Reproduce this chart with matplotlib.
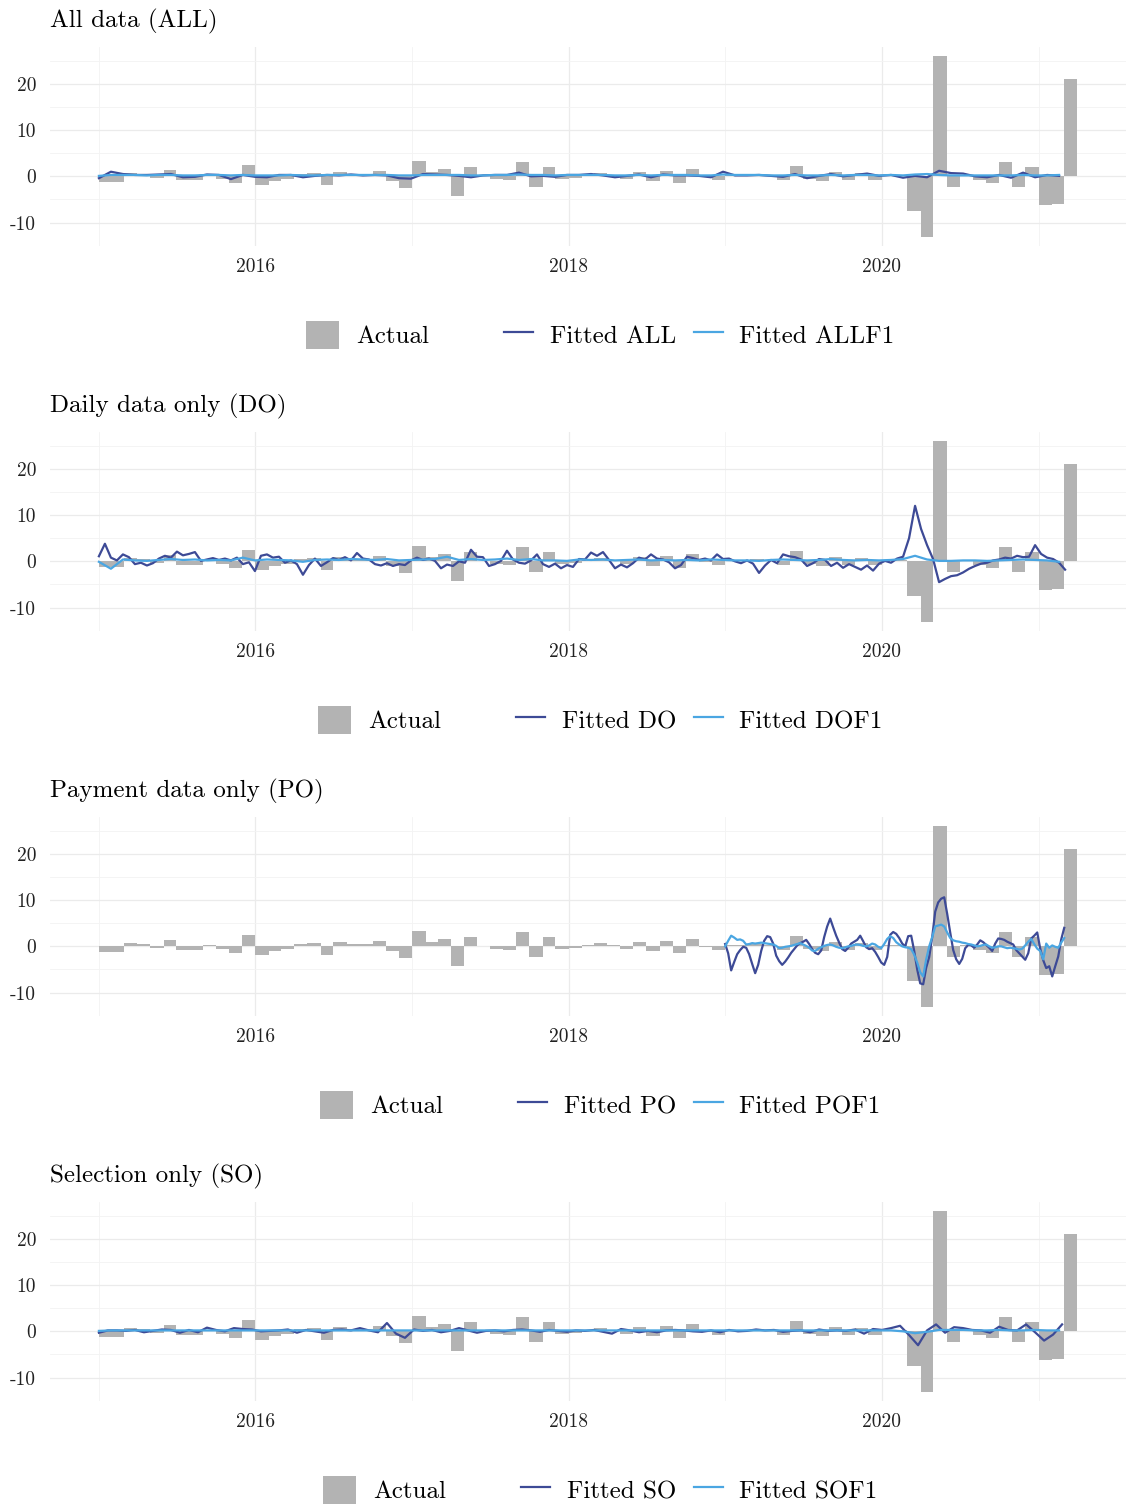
import matplotlib
matplotlib.use("Agg")
import matplotlib.pyplot as plt
import matplotlib.dates as mdates
from matplotlib.patches import Patch
from matplotlib.lines import Line2D
import numpy as np
import pandas as pd

plt.rcParams['font.family'] = ['cmr10', 'DejaVu Serif']
plt.rcParams['axes.formatter.use_mathtext'] = True

# monthly actual values, Jan 2015 - Mar 2021
actual = [
    -1.2, -1.2, 0.8, 0.4, -0.4, 1.3, -0.8, -0.8, 0.3, -0.6, -1.5, 2.5,
    -1.9, -0.9, -0.6, 0.4, 0.7, -1.9, 1.0, 0.6, 0.4, 1.1, -1.1, -2.5,
    3.4, 0.9, 1.5, -4.2, 2.0, 0.1, -0.5, -0.7, 3.1, -2.4, 2.0, -0.6,
    -0.3, 0.3, 0.8, 0.2, -0.6, 0.9, -0.9, 1.1, -1.4, 1.6, -0.2, -0.8,
    0.3, 0.2, 0.5, 0.3, -0.8, 2.2, -0.6, -1.0, 1.0, -0.8, 0.8, -0.8,
    0.2, 0.3, -7.4, -13.1, 26.0, -2.4, 0.3, -0.8, -1.4, 3.0, -2.4, 2.0,
    -6.3, -5.9, 21.0,
]

# fitted series (ALL / SO every 28 / 21 days, DO every 14 days, PO weekly from 2019)
fitted_all = [
    -0.4, 1.0, 0.5, 0.3, 0.3, 0.4, 0.5, -0.2, -0.1, 0.4,
    0.3, -0.6, 0.3, -0.1, -0.2, 0.3, 0.3, -0.2, 0.1, 0.3,
    0.2, 0.4, 0.2, 0.3, 0.2, -0.4, -0.5, 0.5, 0.4, 0.3,
    0.1, -0.2, 0.2, 0.3, 0.3, 0.8, 0.0, 0.1, -0.1, 0.3,
    0.3, 0.5, 0.2, -0.2, 0.1, 0.4, -0.2, 0.4, 0.2, 0.2,
    0.1, -0.2, 1.0, 0.2, 0.2, 0.3, 0.1, -0.1, 0.5, -0.4,
    0.1, 0.5, 0.0, 0.3, 0.6, 0.1, 0.3, -0.3, 0.1, -0.2,
    1.2, 0.7, 0.6, 0.0, -0.2, 0.3, -0.3, 0.8, -0.2, 0.3,
    0.1,
]
fitted_allf1 = [
    0.1, 0.3, 0.3, 0.3, 0.2, 0.3, 0.3, 0.2, 0.2, 0.3,
    0.3, 0.2, 0.3, 0.2, 0.2, 0.2, 0.3, 0.2, 0.2, 0.3,
    0.3, 0.3, 0.3, 0.3, 0.3, 0.2, 0.2, 0.3, 0.3, 0.3,
    0.3, 0.2, 0.2, 0.3, 0.3, 0.4, 0.3, 0.3, 0.2, 0.3,
    0.3, 0.3, 0.3, 0.2, 0.2, 0.3, 0.2, 0.3, 0.3, 0.3,
    0.2, 0.2, 0.4, 0.3, 0.3, 0.3, 0.2, 0.2, 0.3, 0.2,
    0.2, 0.3, 0.2, 0.3, 0.3, 0.2, 0.3, 0.2, 0.4, 0.5,
    0.3, 0.2, 0.2, 0.2, 0.2, 0.2, 0.2, 0.3, 0.2, 0.2,
    0.3,
]
fitted_do = [
    1.1, 3.8, 0.8, 0.2, 1.5, 0.9, -0.6, -0.3, -0.9, -0.4,
    0.6, 1.2, 0.8, 2.1, 1.3, 1.6, 2.0, 0.1, 0.4, 0.7,
    0.3, 0.6, 0.2, 0.8, -0.6, -0.2, -2.1, 1.2, 1.5, 0.8,
    1.0, -0.3, 0.2, -0.6, -2.9, -0.8, 0.6, -1.0, -0.2, 0.7,
    0.3, 0.9, 0.2, 1.8, 0.6, 0.4, -0.6, -0.9, -0.4, -1.0,
    -0.6, -0.8, 0.2, 0.8, 0.3, 0.6, 0.1, -1.5, -0.7, -1.0,
    0.0, -0.3, 2.5, 1.0, 0.9, -1.0, -0.6, 0.1, 2.3, 0.4,
    -0.3, -0.5, 0.2, 1.5, -0.6, -1.2, -0.5, -1.5, -0.8, -1.2,
    0.5, 0.4, 1.9, 1.2, 2.0, 0.3, -1.5, -0.7, -1.3, -0.4,
    0.8, 0.4, 1.5, 0.6, 0.4, -0.2, -1.5, -0.8, 1.0, 0.7,
    0.3, 0.6, 0.2, 1.5, 0.5, 0.6, 0.0, -0.4, 0.2, -0.5,
    -2.5, -0.9, 0.3, -0.4, 1.5, 1.1, 0.9, 0.4, -1.0, -0.4,
    0.5, 0.3, -1.0, -0.3, -1.4, -0.6, -1.2, -1.8, -0.9, -2.0,
    -0.5, 0.1, -0.3, 0.6, 1.0, 5.0, 12.0, 7.0, 3.5, 0.5,
    -4.5, -3.8, -3.2, -3.0, -2.4, -1.6, -1.0, -0.5, -0.3, 0.2,
    0.4, 0.8, 0.6, 1.2, 0.9, 1.0, 3.5, 1.6, 0.8, 0.5,
    -0.3, -1.8,
]
fitted_dof1 = [
    -0.1, -1.6, 0.4, 0.2, 0.1, 0.3, 0.5, 0.3, 0.4, 0.2,
    0.3, 0.2, 0.8, 0.2, 0.4, 0.3, 0.2, -0.1, 0.3, 0.4,
    0.3, 0.5, 0.4, 0.3, 0.5, 0.2, 0.3, 0.4, 0.5, 1.0,
    0.3, 0.5, 0.3, 0.4, 0.6, 0.3, 0.5, 0.2, 0.2, 0.1,
    0.4, 0.3, 0.4, 0.2, 0.3, 0.4, 0.2, 0.3, 0.2, 0.3,
    0.2, 0.4, 0.3, 0.2, 0.2, 0.1, 0.3, 0.4, 0.3, 0.2,
    0.3, 0.5, 0.3, 0.2, 0.3, 0.2, 0.3, 0.5, 1.2, 0.4,
    0.1, 0.1, 0.2, 0.2, 0.1, 0.2, 0.3, 0.4, 0.3, 0.2,
    -0.1,
]
fitted_po = [
    0.5, -1.5, -5.2, -3.4, -1.7, -0.8, -0.1, -0.3, -1.7, -3.8,
    -5.8, -4.0, -1.0, 1.2, 2.2, 2.0, 0.6, -2.0, -3.2, -4.0,
    -3.3, -2.4, -1.4, -0.6, 0.2, 0.7, 1.0, 1.4, 0.5, -0.6,
    -1.4, -1.7, -0.9, 2.0, 4.3, 6.0, 4.1, 2.3, 0.8, -0.6,
    -1.0, -0.3, 0.6, 1.0, 1.4, 2.3, 1.1, -0.2, -0.6, -0.4,
    -1.2, -2.3, -3.5, -4.0, -2.3, 2.5, 3.1, 2.7, 1.8, 0.6,
    0.0, 2.2, 2.3, -1.0, -5.0, -8.0, -8.2, -4.6, -2.3, 2.0,
    7.5, 9.5, 10.3, 10.6, 7.0, 3.0, -0.8, -2.8, -3.8, -2.7,
    -0.4, 0.3, 0.2, -0.3, 0.4, 1.3, 0.9, 0.3, -0.3, -1.0,
    0.6, 1.7, 1.6, 1.4, 1.0, 0.7, 0.4, -0.8, -1.5, -2.2,
    -2.9, -1.5, 1.7, 2.3, 3.0, -0.5, -3.0, -4.7, -4.3, -6.5,
    -4.3, -2.2, 1.5, 4.0,
]
fitted_pof1 = [
    0.0, 1.2, 2.3, 1.9, 1.4, 1.5, 1.2, 0.4, 0.5, 0.7,
    0.6, 0.7, 0.8, 0.7, 0.6, 0.5, 0.4, 0.1, -0.4, -0.3,
    -0.1, 0.0, 0.1, 0.3, 0.5, 0.7, 0.4, 0.1, -0.3, -0.9,
    -1.0, -0.5, -0.2, 0.1, 0.3, 0.4, 0.2, -0.1, -0.3, -0.4,
    -0.2, 0.0, 0.1, 0.3, 0.4, 0.3, 0.1, 0.0, 0.2, 0.6,
    0.4, -0.1, -0.4, 0.5, 1.6, 2.2, 1.8, 0.9, 0.4, 0.0,
    -0.2, -0.3, -0.6, -1.8, -3.5, -5.6, -6.5, -2.8, 0.0, 2.0,
    4.3, 4.5, 4.7, 4.3, 3.0, 1.8, 1.3, 1.1, 1.0, 0.8,
    0.7, 0.5, 0.4, 0.2, 0.0, 0.1, 0.3, 0.4, 0.0, -0.3,
    -0.2, 0.0, 0.0, -0.2, -0.4, -0.3, -0.4, -0.5, -0.7, -0.5,
    0.2, 1.0, 1.6, 0.5, -0.5, -1.0, -2.8, 0.6, -0.3, 0.2,
    -0.1, -0.3, 0.8, 1.8,
]
fitted_so = [
    -0.3, 0.2, 0.2, 0.1, 0.3, -0.2, 0.1, 0.4, 0.3, -0.3,
    0.3, -0.2, 0.8, 0.3, 0.0, 0.7, 0.5, 0.4, 0.0, 0.1,
    0.2, 0.4, -0.3, 0.3, 0.0, -0.3, 0.3, 0.4, 0.2, 0.7,
    0.2, -0.2, 1.8, -0.5, -1.4, 0.4, 0.1, 0.3, -0.2, 0.1,
    0.7, 0.2, -0.3, 0.1, 0.2, 0.0, 0.3, 0.4, 0.2, -0.1,
    0.3, 0.1, -0.1, 0.2, 0.1, 0.3, -0.1, -0.5, 0.5, 0.2,
    -0.2, 0.1, -0.2, 0.2, 0.3, 0.2, 0.0, -0.1, 0.2, -0.2,
    0.3, 0.0, 0.1, 0.4, 0.2, 0.3, -0.1, 0.1, 0.2, -0.2,
    0.4, 0.1, 0.2, 0.1, 0.4, -0.5, 0.5, 0.3, 0.7, 1.2,
    -0.8, -3.0, 0.2, 1.5, -0.3, 0.9, 0.7, 0.3, 0.2, -0.3,
    1.0, 0.3, 0.2, 1.5, -0.2, -2.0, -0.7, 1.5,
]
fitted_sof1 = [
    0.1, 0.2, 0.2, 0.2, 0.2, 0.2, 0.2, 0.2, 0.2, 0.2,
    0.2, 0.2, 0.2, 0.2, 0.2, 0.2, 0.2, 0.2, 0.2, 0.2,
    0.2, 0.2, 0.2, 0.2, 0.2, 0.2, 0.2, 0.2, 0.2, 0.2,
    0.2, 0.2, 0.2, 0.2, 0.2, 0.2, 0.2, 0.2, 0.2, 0.2,
    0.2, 0.2, 0.2, 0.2, 0.2, 0.2, 0.2, 0.2, 0.2, 0.2,
    0.2, 0.2, 0.2, 0.2, 0.2, 0.2, 0.2, 0.2, 0.2, 0.2,
    0.2, 0.2, 0.2, 0.2, 0.2, 0.2, 0.2, 0.0, -0.4, -0.1,
    0.3, 0.3, 0.3, 0.2, 0.2, 0.3, 0.2, 0.2, 0.3, 0.2,
    0.2,
]

titles = ['All data (ALL)', 'Daily data only (DO)', 'Payment data only (PO)', 'Selection only (SO)']
codes = ['ALL', 'DO', 'PO', 'SO']
y_ticks = [-10, 0, 10, 20]
y_tick_labels = ['-10', '0', '10', '20']
major_years = [2016, 2018, 2020]
minor_years = [2015, 2017, 2019, 2021]

BAR_COLOR = '#b3b3b3'
DARK = '#3d4a96'
LIGHT = '#4aa6e2'
LW = 1.6


def series(start, freq, vals):
    return pd.date_range(start, periods=len(vals), freq=freq).to_pydatetime(), vals


panels = [
    (series('2015-01-01', '28D', fitted_all), series('2015-01-01', '28D', fitted_allf1)),
    (series('2015-01-01', '14D', fitted_do), series('2015-01-01', '28D', fitted_dof1)),
    (series('2019-01-01', '7D', fitted_po), series('2019-01-01', '7D', fitted_pof1)),
    (series('2015-01-01', '21D', fitted_so), series('2015-01-01', '28D', fitted_sof1)),
]

months = pd.date_range('2015-01-01', periods=len(actual) + 1, freq='MS').to_pydatetime()
month_num = mdates.date2num(months)
bar_x = month_num[:-1]
bar_w = np.diff(month_num)

x_lo, x_hi = month_num[0], month_num[-1]
x_pad = 0.05 * (x_hi - x_lo)
y_lo, y_hi = min(actual), max(actual)
y_pad = 0.05 * (y_hi - y_lo)

W, H = 1130, 1505
fig = plt.figure(figsize=(W / 100, H / 100), dpi=100)
step = 385
legends = []

for i, (title, code, (fit, fit1)) in enumerate(zip(titles, codes, panels)):
    ax = fig.add_axes([50 / W, 1 - (246 + step * i) / H, 1076 / W, 199 / H])
    ax.bar(bar_x, actual, width=bar_w, align='edge', color=BAR_COLOR, zorder=2)
    ax.plot(mdates.date2num(fit[0]), fit[1], color=DARK, lw=LW, zorder=3)
    ax.plot(mdates.date2num(fit1[0]), fit1[1], color=LIGHT, lw=LW, zorder=4)

    ax.set_xlim(x_lo - x_pad, x_hi + x_pad)
    ax.set_ylim(y_lo - y_pad, y_hi + y_pad)

    ax.set_xticks(mdates.date2num([pd.Timestamp(f'{y}-01-01') for y in major_years]))
    ax.set_xticklabels([str(y) for y in major_years])
    ax.set_xticks(mdates.date2num([pd.Timestamp(f'{y}-01-01') for y in minor_years]), minor=True)
    ax.set_yticks(y_ticks)
    ax.set_yticklabels(y_tick_labels)
    ax.set_yticks([-5, 5, 15, 25], minor=True)

    ax.grid(True, which='major', color='#ebebeb', lw=0.9, zorder=0)
    ax.grid(True, which='minor', color='#f3f3f3', lw=0.6, zorder=0)
    ax.set_axisbelow(True)
    for s in ax.spines.values():
        s.set_visible(False)
    ax.tick_params(which='both', length=0)
    ax.tick_params(axis='x', labelsize=14, pad=9, colors='#222222')
    ax.tick_params(axis='y', labelsize=14, pad=10, colors='#222222')

    ax.set_title(title, loc='left', fontsize=18, pad=14, x=0)

    y_leg = 1 - (335 + step * i) / H
    common = dict(loc='center left', bbox_to_anchor=(0, y_leg), bbox_transform=fig.transFigure,
                  frameon=False, fontsize=18, borderpad=0, borderaxespad=0, handleheight=1.4)
    leg1 = ax.legend([Patch(facecolor=BAR_COLOR, edgecolor='none')], ['Actual'],
                     handlelength=1.35, handletextpad=0.68, **common)
    ax.add_artist(leg1)
    leg2 = ax.legend([Line2D([], [], color=DARK, lw=LW), Line2D([], [], color=LIGHT, lw=LW)],
                     [f'Fitted {code}', f'Fitted {code}F1'], ncol=2,
                     handlelength=1.15, handletextpad=0.66, columnspacing=0.72, **common)
    legends.append((leg1, leg2, y_leg))

# centre each legend pair at x = 600 px with a 75 px gap between the groups
renderer = fig.canvas.get_renderer()
gap = 75
for leg1, leg2, y_leg in legends:
    w1 = leg1.get_window_extent(renderer).width
    w2 = leg2.get_window_extent(renderer).width
    left = 600 - (w1 + gap + w2) / 2
    leg1.set_bbox_to_anchor((left / W, y_leg), transform=fig.transFigure)
    leg2.set_bbox_to_anchor(((left + w1 + gap) / W, y_leg), transform=fig.transFigure)

fig.savefig('out.png', dpi=100)
